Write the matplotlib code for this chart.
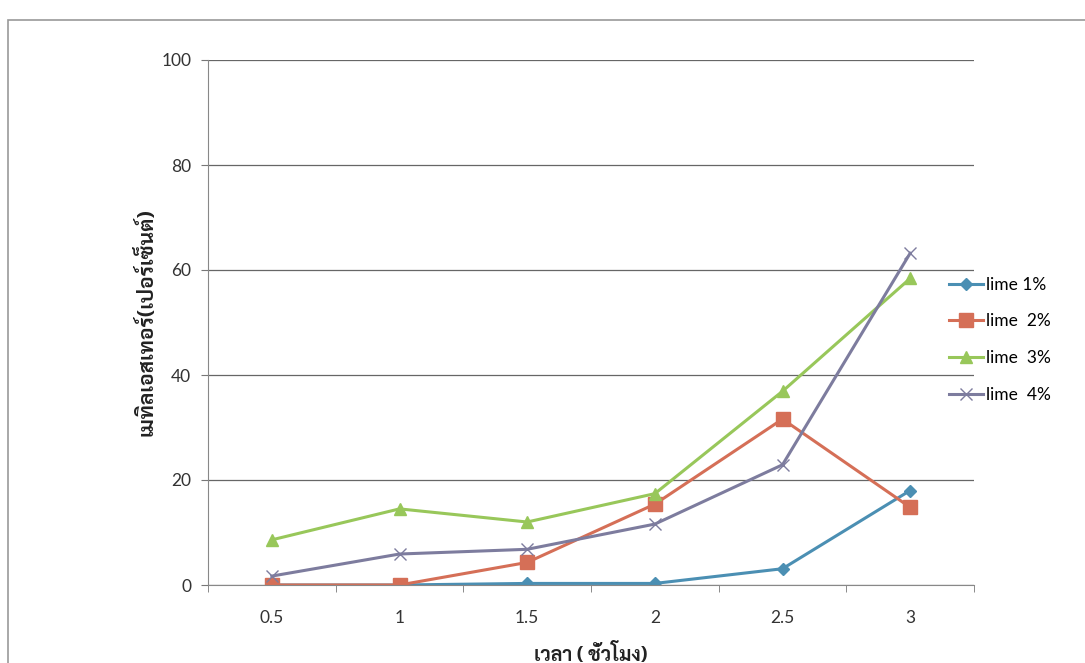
import matplotlib
matplotlib.use('Agg')
import matplotlib.pyplot as plt
from matplotlib.patches import Rectangle
import warnings

warnings.filterwarnings('ignore')

plt.rcParams['font.family'] = ['Lato', 'DejaVu Sans']
thai_fonts = ['Sarabun', 'IBM Plex Sans Thai Looped', 'Noto Sans Thai Looped', 'Tahoma', 'Loma',
              'Garuda', 'IBM Plex Sans Thai', 'Noto Sans Thai', 'DejaVu Sans']

hours = ['0.5', '1', '1.5', '2', '2.5', '3']
lime1 = [0, 0, 0.3, 0.3, 3.1, 18.0]
lime2 = [0, 0, 4.3, 15.4, 31.6, 14.8]
lime3 = [8.6, 14.5, 12.0, 17.4, 36.9, 58.4]
lime4 = [1.7, 5.9, 6.8, 11.6, 22.9, 63.2]
labels = ['lime 1%', 'lime  2%', 'lime  3%', 'lime  4%']

colors = ['#4b8fb3', '#d56f57', '#98c75a', '#7d7c9e']
markers = ['D', 's', '^', 'x']
sizes = [6, 10, 8, 9]

fig = plt.figure(figsize=(10.85, 6.63), dpi=100)
ax = fig.add_axes([208 / 1085, 1 - 585 / 663, (974 - 208) / 1085, (585 - 60) / 663])

x = list(range(len(hours)))
for vals, lab, c, m, s in zip([lime1, lime2, lime3, lime4], labels, colors, markers, sizes):
    if m == 'x':
        ax.plot(x, vals, color=c, lw=2.2, marker=m, ms=s, mew=1.0, label=lab)
    else:
        ax.plot(x, vals, color=c, lw=2.2, marker=m, ms=s, mec=c, mfc=c, label=lab)

ax.set_xlim(-0.5, 5.5)
ax.set_ylim(0, 100)
ax.set_yticks(range(0, 101, 20))
ax.set_xticks(x)
ax.set_xticklabels(hours)
ax.set_xticks([i + 0.5 for i in range(-1, 6)], minor=True)
ax.tick_params(axis='x', which='major', length=0, pad=18, labelsize=12.5, colors='#333333')
ax.tick_params(axis='x', which='minor', length=5, color='#777777', direction='out')
ax.tick_params(axis='y', length=5, color='#777777', pad=7, labelsize=12.5, labelcolor='#333333')
ax.grid(axis='y', color='#666666', lw=0.9)
ax.set_axisbelow(True)
for side in ['top', 'right']:
    ax.spines[side].set_visible(False)
ax.spines['left'].set_color('#888888')
ax.spines['bottom'].set_color('#888888')

ax.set_ylabel('เมทิลเอสเทอร์(เปอร์เซ็นต์)', family=thai_fonts, fontsize=15, fontweight='bold',
              labelpad=3, color='#222222')
ax.set_xlabel('เวลา ( ชั่วโมง)', family=thai_fonts, fontsize=14, fontweight='bold',
              labelpad=12, color='#222222')

fig.legend(loc='upper left', bbox_to_anchor=(933 / 1085, 1 - 261 / 663), frameon=False,
           fontsize=12.5, handlelength=2.0, labelspacing=1.2, handletextpad=0.15)

fig.patches.append(Rectangle((8 / 1085, -0.1), 1.2, 1 - 20 / 663 + 0.1, transform=fig.transFigure,
                             fill=False, ec='#999999', lw=1.2))

fig.savefig('out.png')
